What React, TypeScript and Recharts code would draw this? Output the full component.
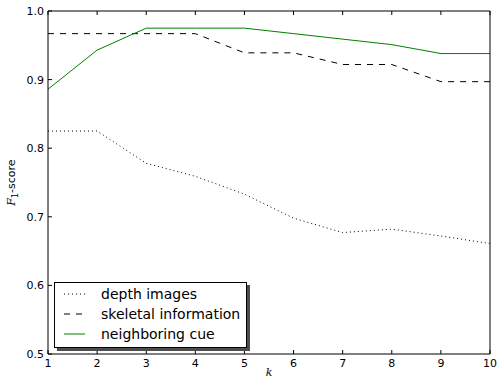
import { Label, Line, LineChart, XAxis, YAxis } from "recharts";

const kValues = [1, 2, 3, 4, 5, 6, 7, 8, 9, 10];
const depthImages = [0.825, 0.825, 0.778, 0.759, 0.733, 0.698, 0.677, 0.682, 0.672, 0.661];
const skeletalInfo = [0.967, 0.967, 0.967, 0.967, 0.939, 0.939, 0.922, 0.922, 0.897, 0.897];
const neighboringCue = [0.886, 0.943, 0.975, 0.975, 0.975, 0.967, 0.959, 0.951, 0.938, 0.938];
const yTicks = [0.5, 0.6, 0.7, 0.8, 0.9, 1.0];

const data = kValues.map((k, i) => ({
  k,
  depth: depthImages[i],
  skeletal: skeletalInfo[i],
  cue: neighboringCue[i]
}));

const FONT = "'DejaVu Sans', sans-serif";
const TICK_LEN = 4;

const legendItems = [
  { label: "depth images", color: "#000", dash: "1 3" },
  { label: "skeletal information", color: "#000", dash: "6 6" },
  { label: "neighboring cue", color: "#008000", dash: undefined }
];

function BottomTick({ x, y, payload }: any) {
  return (
    <g>
      <line x1={x} y1={y} x2={x} y2={y - TICK_LEN} stroke="#000" strokeWidth={1} />
      <text x={x} y={y + 13} textAnchor="middle" fontSize={11} fontFamily={FONT} fill="#000">
        {payload.value}
      </text>
    </g>
  );
}

function TopTick({ x, y }: any) {
  return <line x1={x} y1={y} x2={x} y2={y + TICK_LEN} stroke="#000" strokeWidth={1} />;
}

function LeftTick({ x, y, payload }: any) {
  return (
    <g>
      <line x1={x} y1={y} x2={x + TICK_LEN} y2={y} stroke="#000" strokeWidth={1} />
      <text x={x - 4} y={y + 4} textAnchor="end" fontSize={11} fontFamily={FONT} fill="#000">
        {payload.value.toFixed(1)}
      </text>
    </g>
  );
}

function RightTick({ x, y }: any) {
  return <line x1={x} y1={y} x2={x - TICK_LEN} y2={y} stroke="#000" strokeWidth={1} />;
}

function LegendBox() {
  return (
    <div style={{ position: "absolute", left: 54, top: 282, width: 196, height: 69 }}>
      <div style={{ position: "absolute", left: 3, top: 3, width: 193, height: 66, background: "#4d4d4d" }} />
      <div
        style={{
          position: "absolute",
          left: 0,
          top: 0,
          width: 191,
          height: 64,
          background: "#fff",
          border: "1px solid #000",
          fontFamily: FONT,
          fontSize: 14
        }}
      >
        {legendItems.map((item, i) => (
          <div
            key={item.label}
            style={{ position: "absolute", left: 9, top: 1 + i * 20, height: 20, display: "flex", alignItems: "center" }}
          >
            <svg width={22} height={4} style={{ marginRight: 15 }}>
              <line x1={0} y1={2} x2={21} y2={2} stroke={item.color} strokeWidth={1} strokeDasharray={item.dash} />
            </svg>
            <span style={{ color: "#000", whiteSpace: "nowrap" }}>{item.label}</span>
          </div>
        ))}
      </div>
    </div>
  );
}

export default function App() {
  return (
    <div style={{ position: "absolute", left: 0, top: 0, width: 500, height: 381, background: "#fff" }}>
      <LineChart width={500} height={381} data={data} margin={{ top: 10, right: 9, bottom: 26, left: 47 }}>
        <XAxis
          xAxisId="bottom"
          dataKey="k"
          type="number"
          domain={[1, 10]}
          ticks={kValues}
          height={1}
          tickSize={0}
          tickMargin={0}
          stroke="#000"
          tick={(p: any) => <BottomTick {...p} />}
        >
          <Label
            content={(props: any) => {
              const vb = props.viewBox;
              return (
                <text
                  x={vb.x + vb.width / 2}
                  y={376}
                  textAnchor="middle"
                  fontSize={11}
                  fontStyle="italic"
                  fontFamily="'DejaVu Serif', serif"
                  fill="#000"
                >
                  k
                </text>
              );
            }}
          />
        </XAxis>
        <XAxis
          xAxisId="top"
          orientation="top"
          dataKey="k"
          type="number"
          domain={[1, 10]}
          ticks={kValues}
          height={1}
          tickSize={0}
          tickMargin={0}
          stroke="#000"
          tick={(p: any) => <TopTick {...p} />}
        />
        <YAxis
          yAxisId="left"
          type="number"
          domain={[0.5, 1]}
          ticks={yTicks}
          width={1}
          tickSize={0}
          tickMargin={0}
          stroke="#000"
          tick={(p: any) => <LeftTick {...p} />}
        >
          <Label
            content={(props: any) => {
              const vb = props.viewBox;
              const cy = vb.y + vb.height / 2;
              return (
                <text
                  x={15}
                  y={cy}
                  transform={`rotate(-90 15 ${cy})`}
                  textAnchor="middle"
                  fontSize={11}
                  fontFamily={FONT}
                  fill="#000"
                >
                  <tspan fontStyle="italic" fontFamily="'DejaVu Serif', serif">F</tspan>
                  <tspan fontSize={8} dy={3}>1</tspan>
                  <tspan dy={-3}>-score</tspan>
                </text>
              );
            }}
          />
        </YAxis>
        <YAxis
          yAxisId="right"
          orientation="right"
          type="number"
          domain={[0.5, 1]}
          ticks={yTicks}
          width={1}
          tickSize={0}
          tickMargin={0}
          stroke="#000"
          tick={(p: any) => <RightTick {...p} />}
        />
        <Line
          xAxisId="bottom"
          yAxisId="left"
          type="linear"
          dataKey="depth"
          stroke="#000"
          strokeWidth={1}
          strokeDasharray="1 3"
          dot={false}
          isAnimationActive={false}
        />
        <Line
          xAxisId="bottom"
          yAxisId="left"
          type="linear"
          dataKey="skeletal"
          stroke="#000"
          strokeWidth={1}
          strokeDasharray="6 6"
          dot={false}
          isAnimationActive={false}
        />
        <Line
          xAxisId="bottom"
          yAxisId="left"
          type="linear"
          dataKey="cue"
          stroke="#008000"
          strokeWidth={1}
          dot={false}
          isAnimationActive={false}
        />
      </LineChart>
      <LegendBox />
    </div>
  );
}
